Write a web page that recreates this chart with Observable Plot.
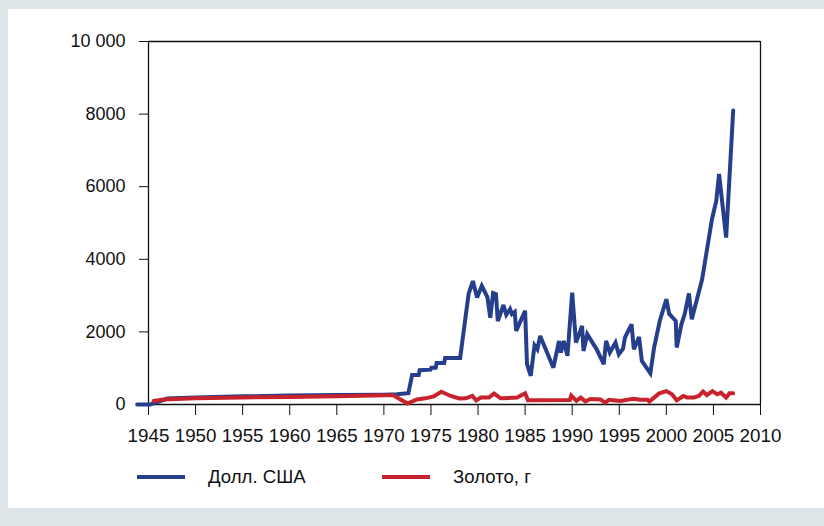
<!DOCTYPE html>
<html>
<head>
<meta charset="utf-8">
<script src="https://cdn.jsdelivr.net/npm/d3@7"></script>
<script src="https://cdn.jsdelivr.net/npm/@observablehq/plot@0.6"></script>
<style>
  html, body { margin: 0; padding: 0; }
  body { width: 824px; height: 526px; background: #dfe6e9; position: relative; overflow: hidden;
         font-family: "Liberation Sans", Arial, sans-serif; }
  #panel { position: absolute; left: 8px; top: 9px; width: 816px; height: 499px; background: #fff; }
  #chart { position: absolute; left: 0; top: 0; }
  .leg { position: absolute; top: 466px; height: 22px; display: flex; align-items: center; font-size: 18.6px; color: #111; }
  .sw { width: 48px; height: 4px; margin-right: 23px; }
</style>
</head>
<body>
<div id="panel"></div>
<div id="chart"></div>
<div class="leg" style="left:137px"><span class="sw" style="background:#263f8c"></span><span>Долл. США</span></div>
<div class="leg" style="left:382px"><span class="sw" style="background:#c8232c"></span><span>Золото, г</span></div>
<script>
const usdYears = [1943.8,1945.2,1947.0,1950,1955,1960,1965,1970,1971.4,1972.6,1973.0,1973.7,1973.8,1974.95,1975.05,1975.5,1975.6,1976.4,1976.5,1978.1,1979.0,1979.45,1979.9,1980.4,1981.0,1981.3,1981.6,1981.9,1982.1,1982.7,1983.0,1983.4,1983.6,1983.9,1984.05,1985.0,1985.2,1985.6,1986.0,1986.3,1986.6,1988.0,1988.6,1988.8,1989.1,1989.5,1990.0,1990.4,1991.05,1991.2,1991.6,1992.6,1993.35,1993.6,1994.0,1994.6,1994.95,1995.4,1995.6,1996.3,1996.55,1997.1,1997.4,1998.3,1998.7,1999.3,2000.0,2000.3,2001.0,2001.1,2001.6,2001.95,2002.4,2002.7,2003.8,2004.85,2005.3,2005.6,2006.35,2007.1];
const usdValues = [0,0,165,190,225,245,260,270,280,310,810,810,945,960,1015,1015,1140,1140,1280,1280,3050,3400,2950,3270,2950,2390,3070,3040,2300,2740,2470,2630,2490,2550,2030,2580,1110,790,1630,1520,1890,1015,1750,1430,1750,1340,3080,1705,2165,1475,1935,1520,1110,1750,1430,1705,1385,1540,1840,2210,1520,1860,1200,860,1570,2300,2900,2500,2300,1570,2210,2490,3060,2350,3450,5110,5610,6350,4600,8100];

const goldYears = [1945.55,1946.6,1950,1955,1960,1965,1970.3,1971.0,1972.5,1973.5,1974.4,1975.3,1976.1,1977.1,1978.0,1978.7,1979.4,1979.8,1980.3,1981.15,1981.7,1982.4,1984.15,1985.0,1985.3,1989.75,1989.9,1990.45,1990.9,1991.4,1991.95,1993.0,1993.5,1993.9,1995.1,1996.5,1997.2,1998.0,1998.2,1999.2,2000.0,2000.6,2001.1,2001.8,2002.2,2002.9,2003.45,2003.9,2004.3,2004.9,2005.4,2005.8,2006.35,2006.7,2007.1];
const goldValues = [95,140,170,195,210,225,255,255,25,140,170,225,350,235,165,170,235,110,190,190,300,170,190,310,115,125,245,100,190,85,150,140,50,130,95,160,130,130,80,300,370,280,115,235,190,190,235,355,260,370,280,325,190,310,310];

const xTicks = [1945,1950,1955,1960,1965,1970,1975,1980,1985,1990,1995,2000,2005,2010];
const yTicks = [0,2000,4000,6000,8000,10000];
const yTickLabels = ["0","2000","4000","6000","8000","10 000"];

const usd = usdYears.map((y, i) => ({year: y, value: usdValues[i]}));
const gold = goldYears.map((y, i) => ({year: y, value: goldValues[i]}));

const chart = Plot.plot({
  width: 824,
  height: 460,
  marginLeft: 148,
  marginRight: 64,
  marginTop: 41,
  marginBottom: 56,
  style: {background: "transparent", fontFamily: "'Liberation Sans', Arial, sans-serif", fontSize: "18px", color: "#111"},
  x: {domain: [1945, 2010]},
  y: {domain: [0, 10000]},
  marks: [
    Plot.axisX({ticks: xTicks, tickSize: 11, tickPadding: 13, tickFormat: d => String(d), label: null, fontSize: 18.8}),
    Plot.axisY({ticks: yTicks, tickSize: 9, tickPadding: 14, tickFormat: d => yTickLabels[yTicks.indexOf(d)], label: null, fontSize: 18}),
    Plot.ruleY([0], {stroke: "#111", strokeWidth: 1.3}),
    Plot.ruleY([10000], {stroke: "#111", strokeWidth: 1.3}),
    Plot.ruleX([1945], {stroke: "#111", strokeWidth: 1.3}),
    Plot.ruleX([2010], {stroke: "#111", strokeWidth: 1.3}),
    Plot.line(usd, {x: "year", y: "value", stroke: "#263f8c", strokeWidth: 4, strokeLinejoin: "miter", strokeMiterlimit: 3, clip: false}),
    Plot.line(gold, {x: "year", y: "value", stroke: "#c8232c", strokeWidth: 4, strokeLinejoin: "miter", strokeMiterlimit: 3, clip: false})
  ]
});
document.getElementById("chart").appendChild(chart);
</script>
</body>
</html>
